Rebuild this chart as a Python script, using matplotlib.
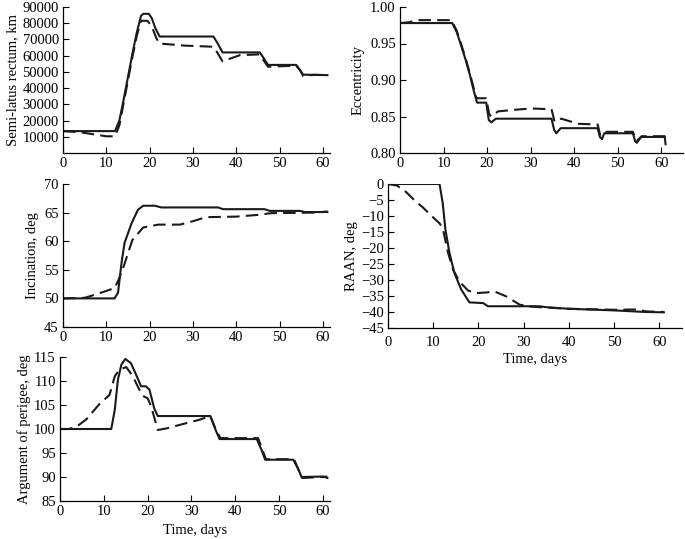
import matplotlib.pyplot as plt
from matplotlib.ticker import FormatStrFormatter

plt.rcParams['font.family'] = ['Liberation Serif', 'DejaVu Serif']
plt.rcParams['font.size'] = 10.5

# semi-latus rectum, km
p_t1 = [0, 12, 13, 14, 15, 16, 17, 18, 18.5, 19.8, 20.5, 21.3, 22.3, 34.7, 35.7, 36.8,
        45.4, 46.3, 47.3, 53.8, 54.7, 55.4, 61]
p_v1 = [13500, 13500, 20000, 33000, 47000, 61000, 74000, 84500, 85800, 85800, 83000, 77000, 71800,
        71800, 67500, 62000, 62000, 58500, 54300, 54300, 51000, 48300, 48000]
p_t2 = [0, 4, 10, 12, 13, 14, 15, 16, 17, 18, 19.5, 20.5, 21.5, 22.2, 28, 34.7, 35.7, 36.8,
        40.8, 45.4, 46.3, 47.3, 53.8, 54.7, 55.4, 58, 61]
p_v2 = [13500, 12800, 10300, 10300, 17000, 31000, 45000, 59000, 72000, 81500, 81500, 78000, 71000,
        67500, 66200, 65500, 61500, 56500, 60300, 60800, 57000, 53200, 53800, 51000, 47500, 48200, 48000]

# eccentricity
e_t1 = [0, 12, 13, 14, 15, 16, 17, 17.7, 19.8, 20.4, 21.0, 22.0, 34.8, 35.4, 35.9, 36.9,
        45.4, 45.9, 46.4, 46.9, 53.5, 54.0, 54.4, 55.4, 60.8, 61]
e_v1 = [0.978, 0.978, 0.966, 0.948, 0.929, 0.908, 0.884, 0.869, 0.869, 0.845, 0.842, 0.847, 0.847,
        0.832, 0.827, 0.834, 0.834, 0.822, 0.819, 0.827, 0.827, 0.816, 0.814, 0.822, 0.822, 0.812]
e_t2 = [0, 2, 4, 11.8, 13, 14, 15, 16, 17, 17.6, 19.8, 20.5, 21.0, 22.5, 26, 30, 34.8, 35.5, 37,
        41, 45.4, 46.0, 47.0, 53.5, 54.3, 55.5, 60.8, 61]
e_v2 = [0.978, 0.979, 0.982, 0.982, 0.968, 0.950, 0.931, 0.910, 0.887, 0.875, 0.875, 0.853, 0.850,
        0.857, 0.859, 0.861, 0.860, 0.843, 0.847, 0.840, 0.839, 0.824, 0.829, 0.829, 0.816, 0.823,
        0.823, 0.815]

# inclination, deg
i_t1 = [0, 11.9, 12.7, 13.5, 14.2, 15.8, 17.3, 18.5, 21.2, 22.7, 35.8, 36.9, 46.5, 47.7, 54.6,
        55.8, 61]
i_v1 = [50, 50, 51, 56.2, 59.7, 63.1, 65.5, 66.2, 66.2, 65.9, 65.9, 65.6, 65.6, 65.3, 65.3,
        65.1, 65.1]
i_t2 = [0, 5, 8, 11.9, 12.8, 14, 16, 18.5, 22, 27, 30, 33, 40, 45, 48, 58, 61]
i_v2 = [50, 50.1, 50.8, 51.8, 53.2, 55.6, 60.2, 62.4, 62.9, 62.9, 63.5, 64.2, 64.3, 64.6, 64.9,
        65.0, 65.2]

# RAAN, deg
r_t1 = [0, 11.4, 12.1, 12.7, 13.6, 14.7, 16.2, 18, 21, 22.1, 33.5, 35, 40, 50, 57, 61]
r_v1 = [0, 0, -6, -14.3, -21.6, -27.9, -33, -37, -37.2, -38.2, -38.2, -38.5, -39, -39.5, -40, -40.1]
r_t2 = [0, 2, 4, 6, 7.7, 9.5, 11.4, 12.1, 13.3, 14.4, 15.8, 17.7, 19.5, 21.7, 23.6, 26.1, 29.1,
        31.3, 35, 40, 50, 55, 57, 61]
r_v2 = [0, -0.5, -2.5, -5.3, -7.3, -9.8, -12.3, -13.8, -21.6, -26.8, -30.5, -33.3, -34.1, -33.9,
        -33.6, -35.1, -37.7, -38.3, -38.6, -39, -39.3, -39.2, -39.8, -40]

# argument of perigee, deg
w_t1 = [0, 11.7, 12.5, 13.2, 14, 14.9, 16.2, 17.7, 18.5, 19.6, 20.4, 21.5, 22.3, 34.3, 35.5,
        36.4, 44.9, 46, 46.8, 53.2, 54.3, 55.1, 60, 61]
w_v1 = [100, 100, 104, 110.2, 113.4, 114.6, 113.7, 110.6, 108.9, 108.9, 108.2, 104.3, 102.7,
        102.7, 99.8, 97.9, 97.9, 95.6, 93.6, 93.6, 91.8, 90.0, 90.1, 89.8]
w_t2 = [0, 2, 3.8, 6, 9, 11.3, 12.5, 13.6, 15.1, 16.6, 18.1, 18.9, 20, 20.8, 22.3, 24.2, 27.9,
        31.7, 34.3, 35.5, 36.6, 45.2, 46.1, 47, 53.4, 54.4, 55.3, 60, 61]
w_v2 = [100, 100, 100.5, 102, 105.2, 107.1, 111, 112.4, 112.9, 111, 108.2, 106.9, 106.4, 104.7,
        99.8, 100.1, 101, 101.9, 102.7, 100, 98.1, 98.1, 95.8, 93.7, 93.7, 91.5, 89.8, 90.0, 90.1]

fig = plt.figure(figsize=(6.85, 5.39), dpi=100)
W, H = 685.0, 539.0


def make_axes(left, right, top, bottom):
    return fig.add_axes([left / W, 1 - bottom / H, (right - left) / W, (bottom - top) / H])


def style(ax):
    ax.spines['top'].set_visible(False)
    ax.spines['right'].set_visible(False)
    ax.tick_params(direction='in', length=4, width=0.8, pad=3)
    for s in ax.spines.values():
        s.set_linewidth(0.9)


def draw(ax, t1, v1, t2, v2):
    ax.plot(t1, v1, color='#1a1a1a', lw=1.5, solid_joinstyle='round')
    ax.plot(t2, v2, color='#1a1a1a', lw=1.5, ls=(0, (6, 3)))


ax1 = make_axes(63, 330, 7, 153)
draw(ax1, p_t1, p_v1, p_t2, p_v2)
ax1.set_xlim(0, 61.6)
ax1.set_ylim(0, 90000)
ax1.set_yticks(range(10000, 90001, 10000))
ax1.set_ylabel('Semi-latus rectum, km', labelpad=2)

ax2 = make_axes(400, 683, 7, 153)
draw(ax2, e_t1, e_v1, e_t2, e_v2)
ax2.set_xlim(0, 65)
ax2.set_ylim(0.80, 1.00)
ax2.set_yticks([0.80, 0.85, 0.90, 0.95, 1.00])
ax2.yaxis.set_major_formatter(FormatStrFormatter('%.2f'))
ax2.set_ylabel('Eccentricity')

ax3 = make_axes(63, 330, 184, 327)
draw(ax3, i_t1, i_v1, i_t2, i_v2)
ax3.set_xlim(0, 61.6)
ax3.set_ylim(45, 70)
ax3.set_yticks(range(45, 71, 5))
ax3.set_ylabel('Incination, deg')

ax4 = make_axes(388, 682, 184, 328)
draw(ax4, r_t1, r_v1, r_t2, r_v2)
ax4.set_xlim(0, 65)
ax4.set_ylim(-45, 0)
ax4.set_yticks(range(-45, 1, 5))
ax4.set_ylabel('RAAN, deg', labelpad=2)
ax4.set_xlabel('Time, days', labelpad=3)

ax5 = make_axes(60, 330, 357, 501)
draw(ax5, w_t1, w_v1, w_t2, w_v2)
ax5.set_xlim(0, 61.6)
ax5.set_ylim(85, 115)
ax5.set_yticks(range(85, 116, 5))
ax5.set_ylabel('Argument of perigee, deg', labelpad=2)
ax5.set_xlabel('Time, days', labelpad=4)

for ax in (ax1, ax2, ax3, ax4, ax5):
    ax.set_xticks(range(0, 61, 10))
    style(ax)
ax4.tick_params(axis='x', pad=6)

fig.savefig('out.png', dpi=100)
